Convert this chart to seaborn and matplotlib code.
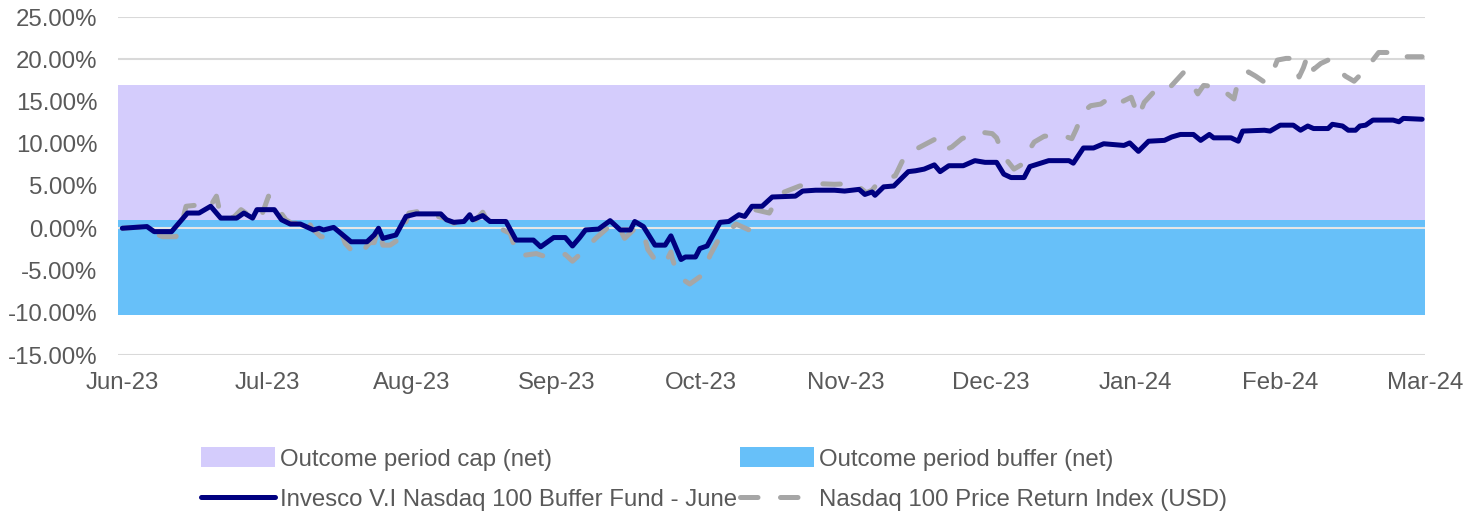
import numpy as np
import pandas as pd
import matplotlib
matplotlib.use('Agg')
import matplotlib.pyplot as plt
from matplotlib.patches import Patch
from matplotlib.lines import Line2D
import seaborn as sns

# x positions are months elapsed since Jun-23, values are returns in %
fund_x = [0.00, 0.17, 0.22, 0.34, 0.45, 0.53, 0.61, 0.68, 0.79, 0.84, 0.90, 0.93, 1.05, 1.10,
          1.16, 1.23, 1.32, 1.36, 1.39, 1.46, 1.58, 1.69, 1.74, 1.77, 1.80, 1.89, 1.96, 2.03,
          2.20, 2.24, 2.29, 2.36, 2.40, 2.42, 2.49, 2.54, 2.65, 2.72, 2.84, 2.89, 2.98, 3.06,
          3.11, 3.16, 3.20, 3.29, 3.37, 3.44, 3.51, 3.54, 3.60, 3.68, 3.75, 3.79, 3.86, 3.89,
          3.96, 3.99, 4.04, 4.13, 4.19, 4.26, 4.30, 4.35, 4.42, 4.49, 4.65, 4.70, 4.79, 4.92,
          4.99, 5.09, 5.13, 5.18, 5.20, 5.26, 5.33, 5.43, 5.48, 5.54, 5.61, 5.65, 5.71, 5.81,
          5.89, 5.96, 6.04, 6.09, 6.14, 6.23, 6.27, 6.40, 6.54, 6.57, 6.64, 6.71, 6.78, 6.92,
          6.96, 7.02, 7.09, 7.20, 7.25, 7.31, 7.40, 7.45, 7.51, 7.54, 7.66, 7.71, 7.74, 7.89,
          7.93, 8.00, 8.09, 8.14, 8.19, 8.23, 8.33, 8.36, 8.43, 8.47, 8.52, 8.55, 8.59, 8.64,
          8.78, 8.82, 8.85, 8.98]
fund_y = [0.0, 0.2, -0.4, -0.4, 1.8, 1.8, 2.6, 1.2, 1.2, 1.8, 1.2, 2.2, 2.2, 1.0,
          0.5, 0.5, -0.2, 0.0, -0.2, 0.1, -1.6, -1.6, -0.8, 0.0, -1.2, -0.8, 1.4, 1.7,
          1.7, 1.0, 0.7, 0.8, 1.6, 1.0, 1.5, 0.8, 0.8, -1.4, -1.4, -2.2, -1.1, -1.1,
          -2.1, -1.1, -0.2, -0.1, 0.9, -0.2, -0.2, 0.8, 0.2, -2.0, -2.0, -0.9, -3.7, -3.4,
          -3.4, -2.4, -2.1, 0.7, 0.8, 1.6, 1.4, 2.6, 2.6, 3.7, 3.8, 4.4, 4.5, 4.5,
          4.4, 4.6, 4.0, 4.3, 3.9, 4.9, 5.0, 6.7, 6.8, 7.0, 7.5, 6.7, 7.4, 7.4,
          8.0, 7.8, 7.8, 6.4, 6.0, 6.0, 7.3, 8.0, 8.0, 7.7, 9.5, 9.5, 10.0, 9.8,
          10.1, 9.1, 10.3, 10.4, 10.8, 11.1, 11.1, 10.4, 11.1, 10.7, 10.7, 10.3, 11.5, 11.6,
          11.5, 12.2, 12.2, 11.6, 12.1, 11.8, 11.8, 12.3, 12.1, 11.6, 11.6, 12.1, 12.2, 12.8,
          12.8, 12.6, 13.0, 12.9]

index_x = [0.00, 0.17, 0.22, 0.28, 0.37, 0.40, 0.44, 0.55, 0.60, 0.65, 0.68, 0.77, 0.82, 0.87,
           0.91, 0.96, 1.01, 1.08, 1.13, 1.17, 1.22, 1.27, 1.31, 1.37, 1.46, 1.51, 1.54, 1.62,
           1.67, 1.71, 1.74, 1.77, 1.80, 1.85, 1.92, 1.98, 2.05, 2.09, 2.16, 2.22, 2.29, 2.33,
           2.39, 2.42, 2.49, 2.54, 2.58, 2.68, 2.73, 2.86, 2.93, 3.06, 3.11, 3.18, 3.27, 3.37,
           3.42, 3.47, 3.55, 3.60, 3.63, 3.70, 3.75, 3.79, 3.80, 3.84, 3.92, 4.01, 4.06, 4.13,
           4.18, 4.24, 4.33, 4.37, 4.47, 4.51, 4.56, 4.68, 4.78, 4.92, 5.06, 5.14, 5.18, 5.23,
           5.34, 5.41, 5.51, 5.61, 5.66, 5.73, 5.80, 5.92, 6.01, 6.04, 6.09, 6.16, 6.21, 6.26,
           6.30, 6.37, 6.51, 6.56, 6.59, 6.64, 6.69, 6.76, 6.81, 6.87, 6.91, 6.97, 7.02, 7.06,
           7.13, 7.19, 7.25, 7.33, 7.38, 7.43, 7.47, 7.53, 7.59, 7.68, 7.71, 7.78, 7.83, 7.89,
           7.93, 7.98, 8.04, 8.09, 8.13, 8.16, 8.19, 8.23, 8.28, 8.33, 8.40, 8.45, 8.51, 8.59,
           8.64, 8.68, 8.75, 8.80, 8.86, 8.98]
index_y = [0.0, 0.2, -0.6, -1.0, -1.0, -0.2, 2.6, 2.8, 2.4, 3.8, 1.4, 1.3, 2.2, 1.6,
           2.0, 1.4, 3.8, 2.2, 1.0, 0.6, 0.6, 1.4, 0.0, -1.0, -1.0, -0.4, -1.8, -3.3,
           -2.5, -1.7, -1.7, 0.0, -2.0, -2.0, -1.2, 1.8, 2.0, 2.0, 1.5, 1.2, 0.6, 0.5,
           0.5, 0.6, 1.9, 0.3, 0.2, -0.6, -3.3, -3.0, -3.4, -3.1, -3.9, -2.8, -1.2, 0.3,
           0.5, -1.2, 0.1, -0.5, -2.5, -4.2, -4.2, -2.8, -3.6, -5.7, -6.6, -5.5, -3.2, -1.0,
           -0.5, 0.5, -0.2, 2.2, 1.8, 3.0, 4.2, 5.0, 5.3, 5.2, 5.3, 4.2, 4.5, 5.6,
           6.2, 8.7, 9.6, 10.5, 9.1, 9.6, 10.6, 11.4, 11.2, 10.7, 8.5, 7.0, 7.5, 9.1,
           10.2, 10.9, 10.9, 10.6, 11.7, 13.8, 14.5, 14.7, 15.3, 14.6, 15.0, 15.5, 13.2, 14.9,
           16.2, 16.0, 16.9, 18.4, 17.4, 15.9, 16.9, 16.8, 16.5, 15.3, 17.5, 18.5, 18.0, 17.3,
           17.7, 19.9, 20.1, 20.1, 17.9, 19.0, 20.5, 18.8, 19.5, 19.9, 18.8, 18.0, 17.4, 18.8,
           19.9, 20.8, 20.8, 20.1, 20.3, 20.3]

month_labels = ['Jun-23', 'Jul-23', 'Aug-23', 'Sep-23', 'Oct-23', 'Nov-23',
                'Dec-23', 'Jan-24', 'Feb-24', 'Mar-24']
cap_range = [1.0, 16.9]
buffer_range = [-10.3, 1.0]

fund_name = 'Invesco V.I Nasdaq 100 Buffer Fund - June'
index_name = 'Nasdaq 100 Price Return Index (USD)'

sns.set_theme(style='white')
plt.rcParams['font.family'] = ['Liberation Sans', 'DejaVu Sans']

text_col = '#595959'
cap_col = '#D4CCFC'
buf_col = '#67C0F9'
navy = '#000080'
grey = '#A6A6A6'
fs = 17.3

fig = plt.figure(figsize=(14.76, 5.14), dpi=100)
ax = fig.add_axes([118/1476, 1-355/514, (1425-118)/1476, (355-17)/514])

# grid lines behind everything
for v in range(-15, 30, 5):
    ax.axhline(v, color='#D9D9D9', lw=1.5, zorder=0)

# outcome bands
xs = [-0.03, len(month_labels) - 1]
ax.fill_between(xs, cap_range[0], cap_range[1], color=cap_col, lw=0, zorder=1)
ax.fill_between(xs, buffer_range[0], buffer_range[1], color=buf_col, lw=0, zorder=1)
ax.axhline(0, color='#E6E6E6', lw=1.5, zorder=2)

df_fund = pd.DataFrame({'x': fund_x, 'y': fund_y})
df_index = pd.DataFrame({'x': index_x, 'y': index_y})

sns.lineplot(data=df_index, x='x', y='y', ax=ax, color=grey, lw=3.6,
             linestyle=(0, (3.5, 4.5)), dash_capstyle='round', zorder=3)
sns.lineplot(data=df_fund, x='x', y='y', ax=ax, color=navy, lw=3.6,
             solid_capstyle='round', solid_joinstyle='round', zorder=4)

ax.set_xlim(-0.03, len(month_labels) - 1)
ax.set_ylim(-15, 25)
ax.set_xticks(range(len(month_labels)))
ax.set_xticklabels(month_labels)
ax.set_yticks(range(-15, 30, 5))
ax.set_yticklabels([f'{v:.2f}%' for v in range(-15, 30, 5)])
ax.tick_params(axis='both', labelsize=fs, colors=text_col, length=0)
ax.tick_params(axis='x', pad=12)
ax.tick_params(axis='y', pad=15)
ax.set_xlabel('')
ax.set_ylabel('')
for s in ax.spines.values():
    s.set_visible(False)

handles = [Patch(facecolor=cap_col, edgecolor='none'),
           Line2D([], [], color=navy, lw=3.6, solid_capstyle='round'),
           Patch(facecolor=buf_col, edgecolor='none'),
           Line2D([], [], color=grey, lw=3.6, linestyle=(0, (3.5, 4.5)), dash_capstyle='round')]
labels = ['Outcome period cap (net)', fund_name, 'Outcome period buffer (net)', index_name]
fig.legend(handles, labels, ncol=2, loc='center', bbox_to_anchor=(714/1476, 1-479/514),
           frameon=False, fontsize=fs, labelcolor=text_col, handlelength=3.1,
           handleheight=0.9, handletextpad=0.2, columnspacing=0.1, labelspacing=0.7,
           borderpad=0)

plt.savefig('out.png', dpi=100)
